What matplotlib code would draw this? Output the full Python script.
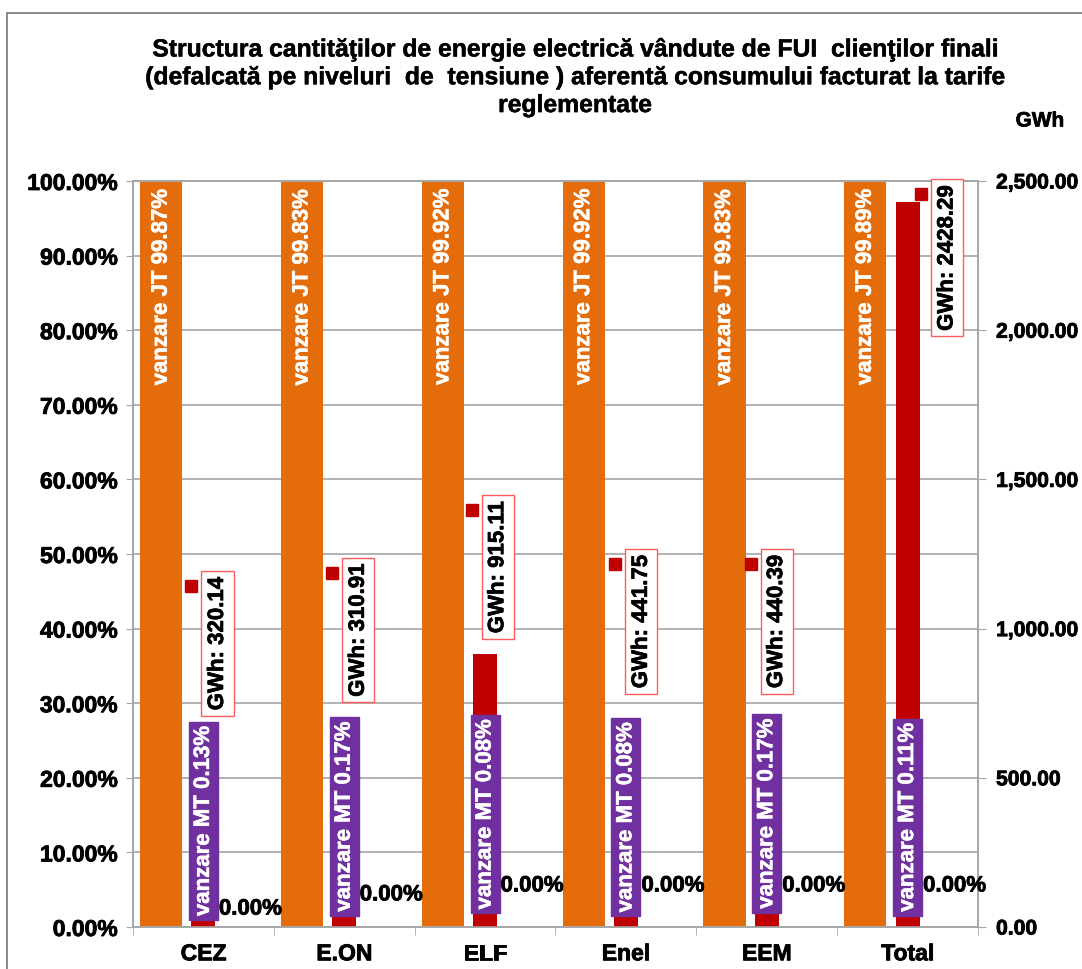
import matplotlib
matplotlib.use("Agg")
import matplotlib.pyplot as plt
import matplotlib.patches as mpatches
import matplotlib.patheffects as pe
from matplotlib.ticker import FuncFormatter, FixedLocator
import numpy as np

plt.rcParams['font.family'] = ['Liberation Sans', 'DejaVu Sans']
plt.rcParams['font.weight'] = 'bold'

# ---- data ----
categories = ['CEZ', 'E.ON', 'ELF', 'Enel', 'EEM', 'Total']
jt_pct = [99.87, 99.83, 99.92, 99.92, 99.83, 99.89]
mt_pct = [0.13, 0.17, 0.08, 0.08, 0.17, 0.11]
it_pct = [0.00, 0.00, 0.00, 0.00, 0.00, 0.00]
gwh = [320.14, 310.91, 915.11, 441.75, 440.39, 2428.29]

title = ("Structura cantităţilor de energie electrică vândute de FUI  clienţilor finali\n"
         "(defalcată pe niveluri  de  tensiune ) aferentă consumului facturat la tarife\n"
         "reglementate")

# label layout (manual placements as in the original)
mt_label_y = [14.2, 14.8, 15.1, 14.7, 15.2, 14.7]          # percent axis
gwh_label_y = [950, 995, 1206, 1024, 1024, 2242]            # GWh axis
gwh_label_dx = [0.10, 0.10, 0.09, 0.11, 0.07, 0.28]         # category units
zero_label_y = [2.4, 4.3, 5.5, 5.5, 5.5, 5.5]               # percent axis

ORANGE = '#E46C0A'
GREEN = '#77C595'
RED = '#C00000'
PURPLE = '#7030A0'
GRID = '#A6A6A6'

W, H = 1082, 969
fig = plt.figure(figsize=(W / 100, H / 100), dpi=100)
fig.patch.set_facecolor('white')

def heavy(color, lw=0.7):
    return [pe.withStroke(linewidth=lw, foreground=color)]

# outer border
fig.add_artist(mpatches.Rectangle((7 / W, -0.1), 1.2, (H - 13) / H + 0.1,
                                  transform=fig.transFigure, fill=False,
                                  edgecolor='#7F7F7F', lw=1.3))

ax = fig.add_axes([133 / W, 1 - 927 / H, (978 - 133) / W, (927 - 181) / H])
x = np.arange(len(categories))
bw = 0.30
ax.bar(x - 0.3, jt_pct, bw, color=ORANGE, zorder=2)
ax.bar(x, mt_pct, bw, color=GREEN, zorder=2)
ax.bar(x + 0.3, it_pct, bw, color='#4F81BD', zorder=2)

ax.set_xlim(-0.5, len(categories) - 0.5)
ax.set_ylim(0, 100)
ax.set_yticks(np.arange(0, 101, 10))
ax.yaxis.set_major_formatter(FuncFormatter(lambda v, p: f"{v:.2f}%"))
ax.grid(axis='y', color=GRID, lw=1.2, zorder=0)
ax.set_axisbelow(True)
ax.set_xticks(x)
ax.set_xticklabels(categories)
ax.xaxis.set_minor_locator(FixedLocator(np.arange(-0.5, len(categories), 1.0)))
ax.tick_params(axis='x', which='major', length=0, pad=11, labelsize=16.5)
ax.tick_params(axis='x', which='minor', length=6, color=GRID, direction='out')
ax.tick_params(axis='y', length=5, color=GRID, direction='out', labelsize=16.5, pad=6)
for s in ax.spines.values():
    s.set_color(GRID)
    s.set_linewidth(1.2)

ax2 = ax.twinx()
ax2.bar(x, gwh, 0.17, color=RED, zorder=2)
ax2.set_ylim(0, 2500)
ax2.set_yticks(np.arange(0, 2501, 500))
ax2.yaxis.set_major_formatter(FuncFormatter(lambda v, p: f"{v:,.2f}"))
ax2.tick_params(axis='y', length=6, color=GRID, direction='out', labelsize=15.2, pad=7)
for s in ax2.spines.values():
    s.set_color(GRID)
    s.set_linewidth(1.2)

for lab in ax.get_xticklabels() + ax.get_yticklabels() + ax2.get_yticklabels():
    lab.set_path_effects(heavy('black', 0.6))

FS = 16

# JT labels
for i, v in enumerate(jt_pct):
    ax.annotate(f"vanzare JT {v:.2f}%", xy=(x[i] - 0.3, v), xytext=(0, -5),
                textcoords='offset points', rotation=90, ha='center', va='top',
                color='white', fontsize=FS, fontweight='bold', zorder=5,
                path_effects=heavy('white', 0.4))

# MT labels (purple boxes) - drawn on ax2 so they sit above the red bars
for i, v in enumerate(mt_pct):
    ax2.text(x[i], mt_label_y[i], f"vanzare MT {v:.2f}%", transform=ax.transData,
             rotation=90, ha='center', va='center', color='white', fontsize=FS,
             fontweight='bold', zorder=6, path_effects=heavy('white', 0.4),
             bbox=dict(boxstyle='square,pad=0.18', facecolor=PURPLE, edgecolor=PURPLE))

# IT labels
for i, v in enumerate(it_pct):
    ax2.text(x[i] + 0.11, zero_label_y[i], f"{v:.2f}%", transform=ax.transData,
             ha='left', va='center', color='black', fontsize=FS, fontweight='bold',
             zorder=6, path_effects=heavy('black', 0.6))

# GWh labels
gtexts = []
for i, v in enumerate(gwh):
    t = ax2.text(x[i] + gwh_label_dx[i], gwh_label_y[i], f"GWh: {v:.2f}",
                 rotation=90, ha='center', va='center', color='black', fontsize=FS,
                 fontweight='bold', zorder=6, path_effects=heavy('black', 0.5),
                 bbox=dict(boxstyle='square,pad=0.25', facecolor='white', edgecolor='#FF5B5B', lw=1.0))
    gtexts.append(t)

# legend-key squares next to the GWh labels
fig.canvas.draw()
r = fig.canvas.get_renderer()
for t in gtexts:
    bb = t.get_bbox_patch().get_window_extent(r)
    px, py = bb.x0 - 10, bb.y1 - 15
    dx, dy = ax2.transData.inverted().transform((px, py))
    ax2.plot([dx], [dy], marker='s', color=RED, markersize=8, linestyle='none',
             zorder=6, clip_on=False)

fig.text(575 / W, 1 - 77 / H, title, ha='center', va='center', fontsize=17.8,
         fontweight='bold', linespacing=1.2, path_effects=heavy('black', 0.35))
fig.text(1040 / W, 1 - 121 / H, "GWh", ha='center', va='center', fontsize=15,
         fontweight='bold', path_effects=heavy('black', 0.5))

fig.savefig('out.png', dpi=100)
